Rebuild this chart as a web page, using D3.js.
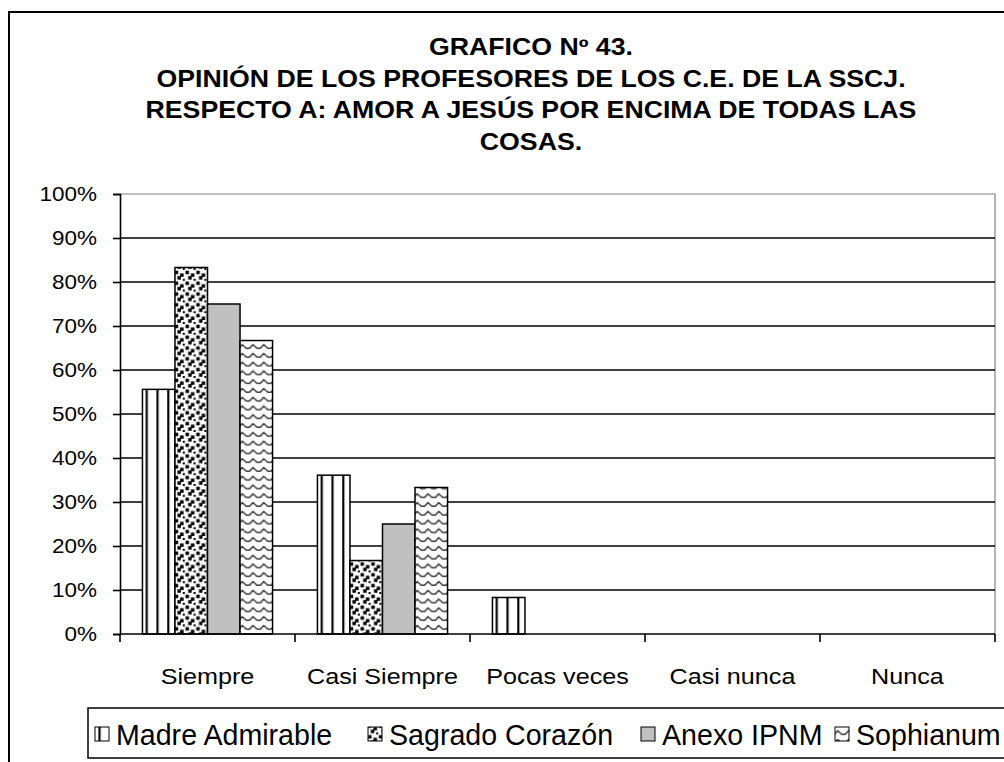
<!DOCTYPE html>
<html>
<head>
<meta charset="utf-8">
<script src="https://cdn.jsdelivr.net/npm/d3@7"></script>
<style>
  html, body { margin: 0; padding: 0; background: #fff; }
  svg { display: block; font-family: "Liberation Sans", Arial, sans-serif; }
</style>
</head>
<body>
<svg id="chart" width="1004" height="762"></svg>
<script>
// Respuestas por categoría
const categories = ["Siempre", "Casi Siempre", "Pocas veces", "Casi nunca", "Nunca"];
const seriesNames = ["Madre Admirable", "Sagrado Corazón", "Anexo IPNM", "Sophianum"];
const madreAdmirable = [55.6, 36.1, 8.3, 0, 0];
const sagradoCorazon = [83.3, 16.7, 0, 0, 0];
const anexoIPNM = [75.0, 25.0, 0, 0, 0];
const sophianum = [66.7, 33.3, 0, 0, 0];
const yTicks = [0, 10, 20, 30, 40, 50, 60, 70, 80, 90, 100];
const titleLines = [
  "GRAFICO Nº 43.",
  "OPINIÓN DE LOS PROFESORES DE LOS C.E. DE LA SSCJ.",
  "RESPECTO A: AMOR A JESÚS POR ENCIMA DE TODAS LAS",
  "COSAS."
];

const seriesValues = [madreAdmirable, sagradoCorazon, anexoIPNM, sophianum];
const fills = ["url(#pVert)", "url(#pConfetti)", "#c0c0c0", "url(#pWave)"];

const svg = d3.select("#chart");
const defs = svg.append("defs");

// Widen a text element horizontally by a factor (wide rendering of the labels)
function widen(sel, factor) {
  sel.each(function () {
    const w = this.getComputedTextLength();
    d3.select(this).attr("textLength", w * factor).attr("lengthAdjust", "spacingAndGlyphs");
  });
}

// Fill patterns (8x8 tiles, scaled)
const tileScale = "scale(1.35)";
const pv = defs.append("pattern").attr("id", "pVert")
  .attr("patternUnits", "userSpaceOnUse").attr("width", 8).attr("height", 8)
  .attr("patternTransform", tileScale);
pv.append("rect").attr("width", 8).attr("height", 8).attr("fill", "#fff");
pv.append("rect").attr("x", 3).attr("width", 1.6).attr("height", 8).attr("fill", "#000");

const pc = defs.append("pattern").attr("id", "pConfetti")
  .attr("patternUnits", "userSpaceOnUse").attr("width", 8).attr("height", 8)
  .attr("patternTransform", tileScale);
pc.append("rect").attr("width", 8).attr("height", 8).attr("fill", "#fff");
[[0.5, 0.5], [4.5, 2.5], [2.5, 4.5], [6.5, 6.5]].forEach(([x, y]) =>
  pc.append("rect").attr("x", x).attr("y", y).attr("width", 2.6).attr("height", 2.6).attr("fill", "#000"));

const pw = defs.append("pattern").attr("id", "pWave")
  .attr("patternUnits", "userSpaceOnUse").attr("width", 8).attr("height", 6.5)
  .attr("patternTransform", tileScale);
pw.append("rect").attr("width", 8).attr("height", 6.5).attr("fill", "#fff");
pw.append("path").attr("d", "M-2,4.5 L0,4.5 L2.5,1.8 L5.5,4.5 L8,4.5 L10.5,1.8")
  .attr("fill", "none").attr("stroke", "#3a3a3a").attr("stroke-width", 1.1);

// Outer frame
svg.append("rect").attr("x", 9).attr("y", 12).attr("width", 1200).attr("height", 900)
  .attr("fill", "none").attr("stroke", "#000").attr("stroke-width", 2);

// Title
const title = svg.append("g").attr("font-weight", "bold").attr("font-size", 23).attr("fill", "#000");
title.selectAll("text").data(titleLines).join("text")
  .attr("text-anchor", "middle").attr("x", 531).attr("y", (d, i) => 55 + i * 31.5)
  .text(d => d)
  .call(widen, 1.16);

// Plot geometry
const plot = { left: 120, right: 995, top: 194, bottom: 634 };
const x0 = d3.scaleBand().domain(categories).range([plot.left, plot.right]).paddingInner(0).paddingOuter(0);
const x1 = d3.scaleBand().domain(d3.range(seriesNames.length))
  .range([0, x0.bandwidth()]).paddingOuter(0.69).paddingInner(0);
const y = d3.scaleLinear().domain([0, 100]).range([plot.bottom, plot.top]);

// Plot-area border (top and right)
svg.append("path")
  .attr("d", `M${plot.left},${plot.top}H${plot.right}V${plot.bottom}`)
  .attr("fill", "none").attr("stroke", "#808080").attr("stroke-width", 1.2);

// Gridlines
svg.append("g").selectAll("line").data(yTicks.filter(d => d > 0 && d < 100)).join("line")
  .attr("x1", plot.left).attr("x2", plot.right)
  .attr("y1", d => y(d)).attr("y2", d => y(d))
  .attr("stroke", "#000").attr("stroke-width", 1.6);

// Bars
const groups = svg.append("g").selectAll("g").data(categories).join("g")
  .attr("transform", d => `translate(${x0(d)},0)`);
groups.selectAll("rect")
  .data((c, ci) => seriesValues.map((vals, si) => ({ si, v: vals[ci] })).filter(d => d.v > 0))
  .join("rect")
  .attr("x", d => x1(d.si))
  .attr("y", d => y(d.v))
  .attr("width", x1.bandwidth())
  .attr("height", d => y(0) - y(d.v))
  .attr("fill", d => fills[d.si])
  .attr("stroke", "#000").attr("stroke-width", 1.5);

// Y axis
const yAxis = d3.axisLeft(y).tickValues(yTicks).tickFormat(d => d + "%").tickSize(7).tickPadding(16);
const gy = svg.append("g").attr("transform", `translate(${plot.left},0)`).call(yAxis);
gy.select(".domain").attr("stroke", "#000").attr("stroke-width", 1.6);
gy.selectAll(".tick line").attr("stroke", "#000").attr("stroke-width", 1.6);
gy.selectAll("text").attr("font-size", 21).attr("fill", "#000")
  .attr("font-family", "'Liberation Sans', Arial, sans-serif")
  .call(widen, 1.07);

// X axis with ticks at category boundaries
const gx = svg.append("g").attr("transform", `translate(0,${plot.bottom})`);
gx.append("line").attr("x1", plot.left).attr("x2", plot.right)
  .attr("stroke", "#000").attr("stroke-width", 1.6);
const bounds = categories.map(c => x0(c)).concat([plot.right]);
gx.selectAll("line.tk").data(bounds).join("line").attr("class", "tk")
  .attr("x1", d => d).attr("x2", d => d).attr("y1", 0).attr("y2", 8)
  .attr("stroke", "#000").attr("stroke-width", 1.6);
gx.selectAll("text").data(categories).join("text")
  .attr("x", d => x0(d) + x0.bandwidth() / 2).attr("y", 50)
  .attr("text-anchor", "middle").attr("font-size", 21.5).attr("fill", "#000")
  .text(d => d)
  .call(widen, 1.17);

// Legend
const legend = svg.append("g");
legend.append("rect").attr("x", 88).attr("y", 708).attr("width", 1000).attr("height", 50)
  .attr("fill", "#fff").attr("stroke", "#000").attr("stroke-width", 1.5);
const legendTextX = [116, 389, 662, 856];
const items = legend.selectAll("g.item").data(seriesNames).join("g").attr("class", "item")
  .attr("transform", (d, i) => `translate(${legendTextX[i]},0)`);
items.append("rect").attr("x", -21).attr("y", 727).attr("width", 14).attr("height", 14)
  .attr("fill", (d, i) => fills[i]).attr("stroke", "#000").attr("stroke-width", 1);
items.append("text").attr("x", 0).attr("y", 745).attr("font-size", 28.6).attr("fill", "#000")
  .text(d => d);
</script>
</body>
</html>
